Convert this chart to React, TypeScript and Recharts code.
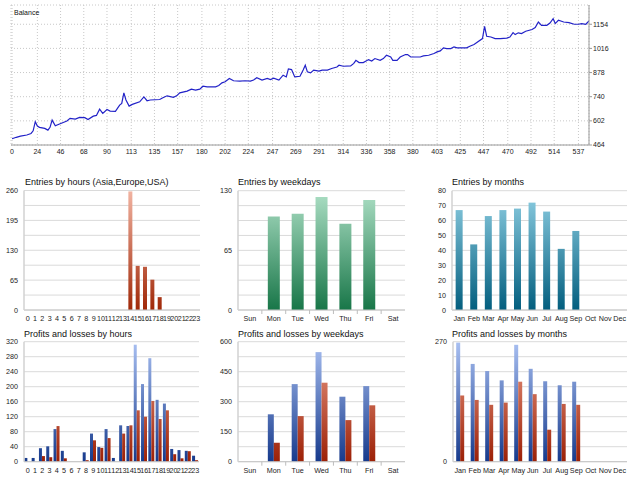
import React from 'react';
import { LineChart, Line, XAxis, YAxis, CartesianGrid, BarChart, Bar } from 'recharts';

// ---------- Balance ----------
const balanceIndex = [0, 4, 8, 14, 18, 20, 22, 24, 26, 31, 34, 36, 38, 41, 45, 52, 55, 60, 64, 69, 72, 77, 80, 83, 86, 90, 93, 98, 102, 104, 106, 108, 111, 114, 121, 125, 128, 131, 140, 143, 147, 153, 156, 159, 166, 170, 174, 178, 181, 185, 193, 196, 199, 202, 206, 210, 216, 221, 226, 229, 232, 237, 242, 245, 248, 253, 257, 260, 262, 265, 268, 273, 276, 278, 280, 283, 286, 291, 294, 299, 303, 308, 310, 314, 321, 324, 326, 329, 333, 338, 341, 344, 349, 352, 355, 359, 361, 365, 368, 373, 375, 378, 382, 387, 390, 395, 400, 403, 406, 409, 412, 416, 419, 422, 431, 434, 438, 441, 446, 448, 450, 454, 458, 463, 469, 472, 475, 477, 480, 483, 487, 493, 496, 499, 502, 507, 510, 513, 515, 518, 523, 528, 533, 537, 540, 544, 547];
const balanceValue = [500, 508, 515, 521, 530, 545, 597, 572, 565, 559, 549, 565, 606, 574, 584, 601, 616, 612, 622, 620, 610, 629, 633, 669, 645, 667, 658, 656, 692, 702, 762, 721, 686, 696, 711, 739, 717, 721, 724, 734, 745, 736, 745, 762, 772, 783, 778, 783, 800, 796, 796, 804, 819, 825, 844, 831, 829, 831, 829, 835, 848, 835, 844, 838, 846, 835, 863, 853, 899, 895, 853, 857, 892, 920, 882, 876, 892, 886, 892, 892, 901, 910, 920, 914, 916, 930, 948, 935, 935, 952, 944, 958, 948, 958, 977, 967, 948, 948, 967, 981, 981, 967, 967, 967, 973, 977, 987, 996, 1002, 1019, 1015, 1015, 1025, 1019, 1019, 1028, 1038, 1051, 1072, 1142, 1085, 1081, 1072, 1072, 1075, 1081, 1106, 1095, 1105, 1101, 1114, 1124, 1135, 1167, 1148, 1148, 1161, 1186, 1158, 1177, 1167, 1163, 1154, 1154, 1158, 1154, 1173];
const balanceXTicks = [0, 24, 46, 68, 90, 113, 135, 157, 180, 202, 224, 247, 269, 291, 314, 336, 358, 380, 403, 425, 447, 470, 492, 514, 537];
const balanceYTicks = [464, 602, 740, 878, 1016, 1154];

// ---------- Hours ----------
const hours = ['0', '1', '2', '3', '4', '5', '6', '7', '8', '9', '10', '11', '12', '13', '14', '15', '16', '17', '18', '19', '20', '21', '22', '23'];
const entriesByHour = [0, 0, 0, 0, 0, 0, 0, 0, 0, 0, 0, 0, 0, 0, 258, 96, 94, 66, 28, 0, 0, 0, 0, 0];
const hourProfits = [10, 10, 36, 41, 87, 29, 0, 0, 25, 75, 39, 87, 10, 97, 95, 312, 207, 276, 165, 155, 34, 31, 29, 16];
const hourLosses = [0, 0, 15, 12, 95, 9, 0, 0, 4, 57, 37, 63, 0, 75, 97, 137, 120, 162, 114, 137, 20, 9, 28, 4];

// ---------- Weekdays ----------
const weekdays = ['Sun', 'Mon', 'Tue', 'Wed', 'Thu', 'Fri', 'Sat'];
const entriesByWeekday = [0, 102, 105, 123, 94, 120, 0];
const weekdayProfits = [0, 237, 388, 548, 325, 378, 0];
const weekdayLosses = [0, 95, 228, 395, 208, 282, 0];

// ---------- Months ----------
const months = ['Jan', 'Feb', 'Mar', 'Apr', 'May', 'Jun', 'Jul', 'Aug', 'Sep', 'Oct', 'Nov', 'Dec'];
const entriesByMonth = [67, 44, 63, 67, 68, 72, 66, 41, 53, 0, 0, 0];
const monthProfits = [268, 220, 204, 183, 263, 209, 181, 172, 180, 0, 0, 0];
const monthLosses = [149, 139, 128, 133, 180, 152, 72, 130, 128, 0, 0, 0];

// ---------- Axis ticks ----------
const hourEntryTicks = [0, 32.5, 65, 97.5, 130, 162.5, 195, 227.5, 260];
const hourEntryLabels = [0, 65, 130, 195, 260];
const hourPLTicks = [0, 40, 80, 120, 160, 200, 240, 280, 320];
const weekdayEntryTicks = [0, 16.25, 32.5, 48.75, 65, 81.25, 97.5, 113.75, 130];
const weekdayEntryLabels = [0, 65, 130];
const weekdayPLTicks = [0, 75, 150, 225, 300, 375, 450, 525, 600];
const weekdayPLLabels = [0, 150, 300, 450, 600];
const monthEntryTicks = [0, 10, 20, 30, 40, 50, 60, 70, 80];
const monthPLTicks = [0, 33.75, 67.5, 101.25, 135, 168.75, 202.5, 236.25, 270];
const monthPLLabels = [0, 270];

const FONT = '"Liberation Sans", Arial, sans-serif';

const BLUE = { top: '#a9c0f2', bottom: '#163a8c' };
const RED = { top: '#eea08a', bottom: '#9c2006' };
const SALMON = { top: '#f2b4a2', bottom: '#a02808' };
const GREEN = { top: '#aee0c6', bottom: '#187648' };
const TEAL = { top: '#90d0e4', bottom: '#035e7e' };

type Series = { key: string; top: string; bottom: string };

type PanelProps = {
  id: string;
  left: number;
  top: number;
  width: number;
  height: number;
  marginTop: number;
  marginRight: number;
  xHeight: number;
  data: any[];
  categories: string[];
  series: Series[];
  yMax: number;
  yTicks: number[];
  yLabels?: number[];
  gap: string;
  title: string;
  titleLeft: number;
  titleTop: number;
  separators?: boolean;
};

function BarPanel(p: PanelProps) {
  const plotTop = p.marginTop;
  const plotBottom = p.height - p.xHeight;
  const half = (p.width - p.marginRight - 24) / p.categories.length / 2;
  const renderTick = (props: any) => {
    const { x, y, payload } = props;
    const idx = p.categories.indexOf(String(payload.value));
    return (
      <g>
        <text x={x} y={y} dy="0.71em" textAnchor="middle" fontSize={7.2} fill="#222">
          {payload.value}
        </text>
        {p.separators && idx > 0 ? (
          <line x1={x - half} x2={x - half} y1={y - 6} y2={y - 2} stroke="#bdbdbd" />
        ) : null}
      </g>
    );
  };
  return (
    <>
      <div
        style={{
          position: 'absolute',
          left: p.titleLeft,
          top: p.titleTop,
          fontSize: 9,
          lineHeight: '11px',
          color: '#111',
          whiteSpace: 'nowrap',
        }}
      >
        {p.title}
      </div>
      <div style={{ position: 'absolute', left: p.left, top: p.top }}>
        <BarChart
          width={p.width}
          height={p.height}
          data={p.data}
          margin={{ top: p.marginTop, right: p.marginRight, bottom: 0, left: 0 }}
          barCategoryGap={p.gap}
          barGap={0}
        >
          <defs>
            {p.series.map((s) => (
              <linearGradient
                key={s.key}
                id={`${p.id}-${s.key}`}
                gradientUnits="userSpaceOnUse"
                x1={0}
                y1={plotTop}
                x2={0}
                y2={plotBottom}
              >
                <stop offset="0" stopColor={s.top} />
                <stop offset="1" stopColor={s.bottom} />
              </linearGradient>
            ))}
          </defs>
          <CartesianGrid vertical={false} stroke="#dadada" />
          <XAxis
            dataKey="c"
            interval={0}
            height={p.xHeight}
            tickLine={false}
            tickSize={4}
            tickMargin={2}
            stroke="#c4c4c4"
            tick={renderTick}
          />
          <YAxis
            domain={[0, p.yMax]}
            ticks={p.yTicks}
            interval={0}
            width={24}
            tickLine={false}
            tickSize={4}
            tickMargin={2}
            stroke="#d2d2d2"
            strokeWidth={1.5}
            tick={{ fontSize: 7.2, fill: '#222' }}
            tickFormatter={(v: number) => (!p.yLabels || p.yLabels.includes(v) ? String(v) : '')}
          />
          {p.series.map((s) => (
            <Bar key={s.key} dataKey={s.key} fill={`url(#${p.id}-${s.key})`} isAnimationActive={false} />
          ))}
        </BarChart>
      </div>
    </>
  );
}

export default function App() {
  const balanceData = balanceIndex.map((i, k) => ({ i, v: balanceValue[k] }));
  const hourEntryData = hours.map((c, k) => ({ c, a: entriesByHour[k] }));
  const hourPLData = hours.map((c, k) => ({ c, p: hourProfits[k], l: hourLosses[k] }));
  const weekdayEntryData = weekdays.map((c, k) => ({ c, a: entriesByWeekday[k] }));
  const weekdayPLData = weekdays.map((c, k) => ({ c, p: weekdayProfits[k], l: weekdayLosses[k] }));
  const monthEntryData = months.map((c, k) => ({ c, a: entriesByMonth[k] }));
  const monthPLData = months.map((c, k) => ({ c, p: monthProfits[k], l: monthLosses[k] }));

  return (
    <div
      style={{
        position: 'absolute',
        left: 0,
        top: 0,
        width: 640,
        height: 480,
        background: '#fff',
        overflow: 'hidden',
        fontFamily: FONT,
      }}
    >
      {/* Balance */}
      <div style={{ position: 'absolute', left: 0, top: 0 }}>
        <LineChart width={640} height={160} data={balanceData} margin={{ top: 5, right: 0, bottom: 0, left: 11 }}>
          <CartesianGrid xAxisId="b" yAxisId="r" stroke="#c8c8c8" strokeDasharray="1 2" />
          <XAxis
            xAxisId="b"
            dataKey="i"
            type="number"
            domain={[-1, 547]}
            ticks={balanceXTicks}
            interval={0}
            height={15}
            tickLine={false}
            tickSize={3}
            tickMargin={1}
            stroke="#9a9a9a"
            tick={{ fontSize: 7, fill: '#222' }}
            allowDataOverflow
          />
          <XAxis
            xAxisId="t"
            orientation="top"
            type="number"
            domain={[-1, 547]}
            height={0}
            tick={false}
            tickLine={false}
            stroke="#9a9a9a"
            allowDataOverflow
          />
          <YAxis
            yAxisId="r"
            orientation="right"
            type="number"
            domain={[464, 1264]}
            ticks={balanceYTicks}
            interval={0}
            width={51}
            tickSize={3}
            tickMargin={1}
            stroke="#9a9a9a"
            tick={{ fontSize: 7, fill: '#222', textAnchor: 'start' }}
            allowDataOverflow
          />
          <YAxis
            yAxisId="l"
            orientation="left"
            type="number"
            domain={[464, 1264]}
            width={0}
            tick={false}
            tickLine={false}
            stroke="#9a9a9a"
            allowDataOverflow
          />
          <Line
            xAxisId="b"
            yAxisId="r"
            dataKey="v"
            type="linear"
            stroke="#2222c8"
            strokeWidth={1.2}
            dot={false}
            isAnimationActive={false}
          />
        </LineChart>
      </div>
      <div style={{ position: 'absolute', left: 14, top: 8, fontSize: 7, lineHeight: '9px', color: '#111' }}>Balance</div>

      <BarPanel
        id="he"
        left={0}
        top={175}
        width={215}
        height={155}
        marginTop={15.5}
        marginRight={15}
        xHeight={20}
        data={hourEntryData}
        categories={hours}
        series={[{ key: 'a', ...SALMON }]}
        yMax={260}
        yTicks={hourEntryTicks}
        yLabels={hourEntryLabels}
        gap="23%"
        title="Entries by hours (Asia,Europe,USA)"
        titleLeft={25}
        titleTop={177}
      />
      <BarPanel
        id="hp"
        left={0}
        top={325}
        width={215}
        height={155}
        marginTop={16.7}
        marginRight={16}
        xHeight={18.3}
        data={hourPLData}
        categories={hours}
        series={[{ key: 'p', ...BLUE }, { key: 'l', ...RED }]}
        yMax={320}
        yTicks={hourPLTicks}
        gap="5%"
        title="Profits and losses by hours"
        titleLeft={24}
        titleTop={329}
      />
      <BarPanel
        id="we"
        left={214}
        top={175}
        width={200}
        height={155}
        marginTop={15.7}
        marginRight={9}
        xHeight={20}
        data={weekdayEntryData}
        categories={weekdays}
        series={[{ key: 'a', ...GREEN }]}
        yMax={130}
        yTicks={weekdayEntryTicks}
        yLabels={weekdayEntryLabels}
        gap="25%"
        title="Entries by weekdays"
        titleLeft={238}
        titleTop={177}
        separators
      />
      <BarPanel
        id="wp"
        left={214}
        top={325}
        width={200}
        height={155}
        marginTop={16.7}
        marginRight={9}
        xHeight={18.3}
        data={weekdayPLData}
        categories={weekdays}
        series={[{ key: 'p', ...BLUE }, { key: 'l', ...RED }]}
        yMax={600}
        yTicks={weekdayPLTicks}
        yLabels={weekdayPLLabels}
        gap="25%"
        title="Profits and losses by weekdays"
        titleLeft={238}
        titleTop={329}
        separators
      />
      <BarPanel
        id="me"
        left={428}
        top={175}
        width={212}
        height={155}
        marginTop={15.7}
        marginRight={13}
        xHeight={20}
        data={monthEntryData}
        categories={months}
        series={[{ key: 'a', ...TEAL }]}
        yMax={80}
        yTicks={monthEntryTicks}
        gap="25%"
        title="Entries by months"
        titleLeft={452}
        titleTop={177}
      />
      <BarPanel
        id="mp"
        left={429}
        top={325}
        width={211}
        height={155}
        marginTop={16.7}
        marginRight={13}
        xHeight={18.3}
        data={monthPLData}
        categories={months}
        series={[{ key: 'p', ...BLUE }, { key: 'l', ...RED }]}
        yMax={270}
        yTicks={monthPLTicks}
        yLabels={monthPLLabels}
        gap="22%"
        title="Profits and losses by months"
        titleLeft={452}
        titleTop={329}
      />
    </div>
  );
}
